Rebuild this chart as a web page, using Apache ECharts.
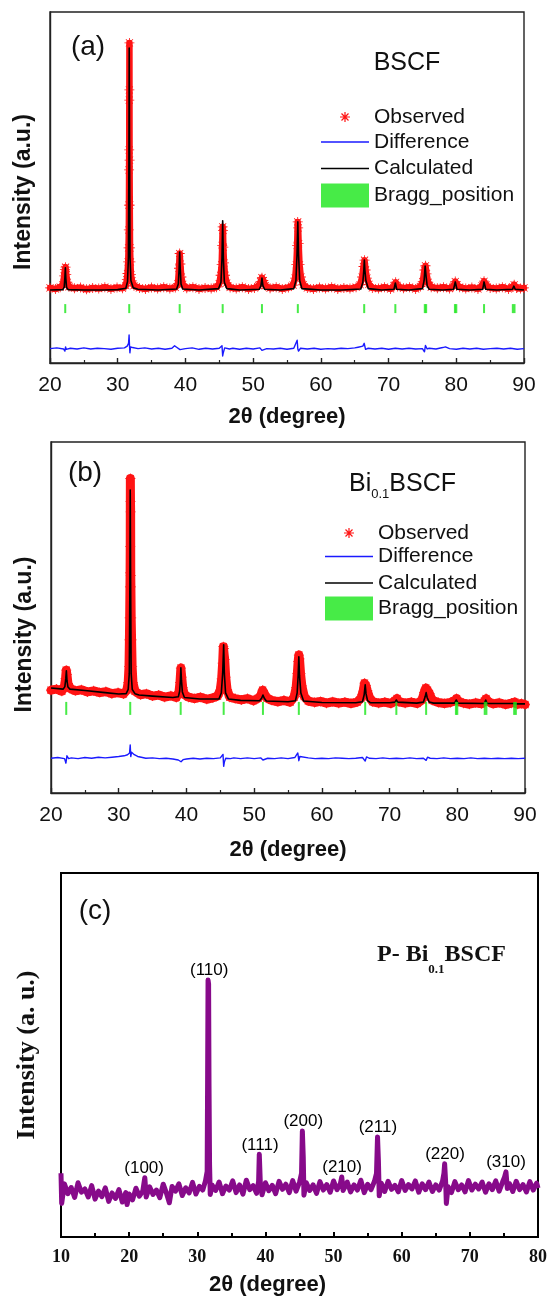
<!DOCTYPE html>
<html>
<head>
<meta charset="utf-8">
<script src="https://cdn.jsdelivr.net/npm/echarts@6.0.0/dist/echarts.min.js"></script>
<style>
html,body{margin:0;padding:0;background:#fff}
#chart{width:550px;height:1297px}
</style>
</head>
<body>
<div id="chart"></div>
<script>
// ---------- (a) BSCF: Rietveld refinement, [2theta, intensity a.u.] ----------
const bscfObserved = [
[20.0,21.4],[20.8,21.1],[21.5,21.6],[21.9,22.3],[22.1,24.8],[22.2,26.6],[22.3,27.3],[22.4,25.2],[22.55,23],[22.8,21.7],
[23.6,21.3],[24.5,21.5],[25.4,21.0],[26.3,21.4],[27.2,21.2],[28.1,21.6],[29.0,21.1],[29.9,21.5],[30.7,21.3],[31.2,22],
[31.35,23.8],[31.45,25.5],[31.55,28.8],[31.6,32.8],[31.64,37.9],[31.66,45],[31.68,55],[31.7,60.7],[31.71,74.9],[31.72,77.8],
[31.73,91.2],[31.75,57.8],[31.78,45],[31.82,32.8],[31.88,28.8],[31.95,25.2],[32.1,23.4],[32.4,22],
[33.2,21.4],[34.1,21.1],[35.0,21.5],[35.9,21.2],[36.8,21.6],[37.7,21.2],[38.5,21.5],[38.9,22.6],[39.05,27],[39.15,31.2],
[39.25,28.2],[39.4,24.5],[39.6,22.4],[40.2,21.3],[41.1,21.6],[42.0,21.1],[42.9,21.4],[43.8,21.2],[44.6,21.6],[45.0,22.6],
[45.2,25],[45.35,28],[45.43,33.5],[45.5,38.8],[45.55,37.8],[45.6,33],[45.7,28.5],[45.85,25],[46.1,22.8],[46.6,21.5],
[47.5,21.2],[48.4,21.6],[49.3,21.1],[50.2,21.4],[50.8,22],[51.1,23.2],[51.3,24.3],[51.5,23.5],[51.8,22],[52.5,21.3],
[53.4,21.6],[54.3,21.1],[55.2,21.5],[55.9,22.2],[56.2,24.2],[56.38,28],[56.5,33.5],[56.58,40.2],[56.65,38.5],[56.72,34],
[56.85,28],[57.05,24.5],[57.4,22.3],[58.0,21.4],[58.9,21.1],[59.8,21.5],[60.7,21.2],[61.6,21.6],[62.5,21.1],[63.4,21.4],
[64.3,21.2],[65.2,21.6],[65.8,22.3],[66.1,24.5],[66.3,27.5],[66.45,29.3],[66.6,26.5],[66.8,24.2],[67.1,22.4],[67.6,21.4],
[68.5,21.2],[69.4,21.6],[70.3,21.1],[70.8,21.9],[71.05,23],[71.3,21.8],[72.2,21.3],[73.1,21.6],[74.0,21.1],[74.7,21.8],
[75.05,23.2],[75.3,26.5],[75.45,27.7],[75.6,25.4],[75.85,23],[76.3,21.6],[77.2,21.3],[78.1,21.6],[79.0,21.2],[79.6,21.9],
[79.85,23.2],[80.1,22.3],[80.5,21.6],[81.4,21.2],[82.3,21.5],[83.2,21.1],[83.8,22],[84.1,23.3],[84.4,22.2],[85.0,21.4],
[85.9,21.2],[86.8,21.6],[87.7,21.1],[88.3,21.7],[88.55,22.3],[88.9,21.4],[89.5,21.2],[90.0,21.4]
];
const bscfCalculated = [
[20,20.8],[21.9,20.9],[22.1,21.6],[22.2,24.5],[22.27,27.1],[22.34,24],[22.45,21.5],[22.7,20.9],
[25,20.8],[28,20.8],[30,20.9],[31.2,21.3],[31.45,23.2],[31.58,30],[31.66,60],[31.7,89.7],[31.75,60],[31.82,30],[31.95,23.5],[32.3,21.4],[33,21],
[36,20.8],[38.7,21.1],[38.95,22.5],[39.07,27],[39.15,31.6],[39.23,27],[39.35,22.5],[39.6,21.1],
[42,20.8],[44.9,21.2],[45.25,23],[45.4,30],[45.5,40.5],[45.6,30],[45.75,23],[46.1,21.2],
[48,20.8],[50.9,21],[51.15,22],[51.3,24.2],[51.45,22],[51.7,21],
[54,20.8],[56,21.2],[56.32,23.5],[56.48,31],[56.6,40.2],[56.7,31],[56.88,23.5],[57.2,21.2],
[60,20.8],[63,20.8],[65.9,21.1],[66.2,23],[66.35,26.5],[66.42,29.3],[66.5,26.5],[66.65,23.5],[67,21.2],
[69,20.8],[70.8,21],[71.0,22.8],[71.2,21],
[73,20.8],[75.0,21.2],[75.25,23.5],[75.4,27.6],[75.55,24.5],[75.7,22],[76.0,21],
[78,20.8],[79.6,21],[79.85,23.1],[80.1,21],
[82,20.8],[83.9,21],[84.1,23.1],[84.35,21],
[86,20.8],[88.3,21],[88.5,21.9],[88.7,21],[90,20.8]
];
const bscfDifference = [
[20,4.1],[21,4.3],[22,4.0],[22.2,3.4],[22.3,4.6],[22.4,3.9],[23,4.2],[24,4.0],[25,4.3],[26,4.0],[27,4.2],[28,4.1],[29,3.9],[30,4.2],
[31,4.3],[31.4,4.8],[31.6,5.6],[31.68,8.0],[31.74,5.0],[31.8,2.9],[31.9,4.6],[32.2,4.4],[33,4.1],[34,4.3],[35,4.0],[36,4.2],[37,3.9],
[38,4.2],[38.4,4.9],[38.7,4.5],[39.2,3.8],[40,4.1],[41,4.3],[42,3.9],[43,4.2],[44,4.0],[45,4.2],[45.4,4.9],[45.5,2.0],[45.6,3.0],
[45.8,4.3],[46.5,4.0],[47,4.2],[48,3.9],[49,4.2],[50,4.0],[51,4.3],[51.3,3.6],[52,4.1],[53,4.0],[54,4.2],[55,3.9],[56,4.2],[56.5,6.5],
[56.6,4.0],[56.7,3.4],[57,4.2],[58,4.0],[59,4.2],[60,3.9],[61,4.1],[62,4.0],[63,4.2],[64,4.1],[65,4.3],[65.5,4.5],[66.2,4.8],[66.4,5.6],
[66.6,3.9],[67,4.2],[68,4.0],[69,4.2],[70,3.9],[71,4.2],[72,4.0],[73,4.2],[74,4.0],[75,4.1],[75.3,3.2],[75.45,5.0],[75.7,4.0],[76,4.2],
[77,4.0],[78,4.4],[78.4,4.6],[79,4.1],[80,3.9],[81,4.2],[82,4.0],[83,4.2],[84,3.9],[85,4.1],[86,4.2],[87,4.0],[88,4.2],[89,3.9],[90,4.1]
];
const bscfBragg = [22.25,31.7,39.15,45.5,51.3,56.6,66.4,71.0,75.35,75.55,79.8,80.0,84.1,88.35,88.6];
const bscfBraggLevel = 15.5;

// ---------- (b) Bi0.1BSCF: Rietveld refinement ----------
const biObserved = [
[20.0,29.3],[20.8,29.6],[21.6,29.0],[22.0,30.6],[22.15,32.6],[22.25,35.0],[22.35,33.8],[22.5,31.2],[22.8,29.8],[23.6,29.1],
[24.5,29.4],[25.4,28.8],[26.3,29.1],[27.2,28.6],[28.1,28.9],[29.0,28.3],[29.9,28.6],[30.7,28.2],[31.2,29.3],[31.4,31.5],
[31.52,36],[31.58,43.6],[31.62,49.9],[31.66,58.7],[31.68,62.7],[31.7,70.2],[31.72,89.6],[31.74,83.0],[31.76,80.1],[31.78,62],
[31.8,58.7],[31.84,49.9],[31.9,43.6],[31.98,36],[32.1,31.5],[32.4,29.0],[33.2,28.0],[34.1,28.3],[35.0,27.6],[35.9,27.9],
[36.8,27.3],[37.7,27.7],[38.5,27.2],[38.9,28.8],[39.05,31.5],[39.18,35.6],[39.3,33],[39.45,30],[39.7,28],[40.3,27.3],
[41.2,26.9],[42.1,27.3],[43.0,26.7],[43.9,27.1],[44.6,27.6],[45.0,29.3],[45.2,32.5],[45.35,37],[45.45,41.7],[45.55,41.2],
[45.65,38],[45.8,33],[46.0,29.5],[46.4,27.3],[47.2,26.9],[48.1,26.5],[49.0,26.9],[49.9,26.3],[50.6,27.0],[51.0,27.8],
[51.25,29.3],[51.5,28.3],[51.9,27],[52.6,26.4],[53.5,26.0],[54.4,26.4],[55.3,25.9],[55.9,27.3],[56.2,30],[56.38,34],
[56.5,37.5],[56.6,39.3],[56.7,38.2],[56.85,34],[57.05,30.5],[57.4,27.5],[58.0,26.2],[58.9,25.8],[59.8,26.1],[60.7,25.6],
[61.6,26.0],[62.5,25.6],[63.4,25.9],[64.3,25.5],[65.2,25.9],[65.8,27.1],[66.1,29],[66.3,31.3],[66.5,30.6],[66.7,29.2],
[67.0,27.3],[67.5,26.0],[68.4,25.6],[69.3,25.9],[70.2,25.5],[70.8,26.3],[71.1,26.9],[71.4,26.0],[72.3,25.6],[73.2,25.9],
[74.1,25.5],[74.8,26.5],[75.1,28.6],[75.35,29.9],[75.6,29.3],[75.9,28.3],[76.3,26.4],[77.2,25.8],[78.1,25.5],[79.0,25.8],
[79.6,26.3],[79.9,26.9],[80.2,26.1],[80.9,25.6],[81.8,25.3],[82.7,25.7],[83.6,25.4],[84.0,26.2],[84.25,26.9],[84.6,26.0],
[85.3,25.4],[86.2,25.7],[87.1,25.2],[88.0,25.6],[88.5,25.9],[88.9,25.3],[89.5,25.5],[90.0,25.2]
];
const biCalculated = [
[20,29.9],[21.8,29.6],[22.05,30.3],[22.18,32.5],[22.27,34.8],[22.36,32],[22.5,30.2],[22.8,29.6],[25,29.2],[28,28.6],[30,28.2],
[31.1,28.3],[31.4,29.5],[31.56,34],[31.65,60],[31.7,86.3],[31.76,60],[31.84,34],[32.0,29.5],[32.4,28.3],[33,27.9],[35,27.6],[38,27.2],
[38.8,27.4],[39.0,29],[39.1,32],[39.18,35.7],[39.27,32],[39.4,28.8],[39.7,27.2],[42,26.8],[44.8,26.8],[45.15,28.5],[45.35,34],
[45.5,42.2],[45.6,34],[45.78,28.5],[46.2,26.8],[48,26.4],[50.8,26.3],[51.1,27],[51.3,27.9],[51.5,27],[51.8,26.2],[55,26.0],
[56.1,26.3],[56.35,28.5],[56.5,33.5],[56.6,38.8],[56.7,33.5],[56.9,28.5],[57.3,26.2],[60,25.8],[65,25.7],[66.0,26],[66.25,28],
[66.4,30.8],[66.52,28.3],[66.75,26.3],[67.2,25.7],[70,25.7],[70.8,25.9],[71.0,26.5],[71.2,25.9],[74,25.6],[75.0,25.9],[75.25,27.4],
[75.4,28.6],[75.55,27.2],[75.85,25.9],[76.5,25.6],[79.6,25.6],[79.85,26.5],[80.1,25.6],[84.0,25.5],[84.2,26.5],[84.4,25.5],
[88.3,25.5],[88.5,25.8],[88.7,25.4],[90,25.4]
];
const biDifference = [
[20,9.9],[21,10.1],[22,9.8],[22.2,8.5],[22.35,10.6],[22.6,9.8],[23,10.0],[24,9.8],[25,10.1],[26,9.9],[27,10.2],[28,10.0],[29,10.2],
[30,10.4],[30.8,10.6],[31.3,10.9],[31.6,11.4],[31.7,13.7],[31.78,10.4],[31.9,11.6],[32.3,10.9],[32.8,10.4],[33.5,10.1],[34,9.9],
[35,10.0],[36,9.8],[37,9.9],[38,9.7],[38.8,9.4],[39.2,8.9],[39.5,9.5],[40,9.7],[41,9.9],[42,9.7],[43,9.9],[44,9.8],[45,10.0],
[45.4,11.0],[45.5,7.6],[45.6,8.8],[45.8,9.9],[46.5,9.8],[47,10.0],[48,9.8],[49,10.0],[50,9.8],[51,10.0],[51.3,9.4],[52,9.9],
[53,9.8],[54,10.0],[55,9.8],[56,10.1],[56.45,11.4],[56.6,9.2],[56.75,10.4],[57,9.9],[58,10.0],[59,9.8],[60,9.9],[61,9.8],[62,10.0],
[63,9.9],[64,9.8],[65,9.9],[66,10.1],[66.4,9.1],[66.6,10.3],[67,9.9],[68,9.8],[69,10.0],[70,9.8],[71,9.9],[72,9.8],[73,10.0],
[74,9.8],[75,9.9],[75.4,9.3],[75.6,10.2],[76,9.9],[77,9.8],[78,10.0],[79,9.8],[80,9.9],[81,9.8],[82,10.0],[83,9.8],[84,9.9],
[85,9.8],[86,9.9],[87,9.8],[88,9.9],[89,9.8],[90,9.9]
];
const biBragg = [22.25,31.7,39.15,45.5,51.3,56.6,66.4,71.0,75.4,79.8,80.0,84.05,84.3,88.4,88.65];
const biBraggLevel = 24.1;

// ---------- (c) P-Bi0.1BSCF: powder pattern ----------
const pbiPattern = [
[10.0,17.5],[10.1,9.2],[10.5,14.6],[11.0,11.9],[11.5,13.6],[12.0,10.9],[12.5,14.9],[13.0,12.3],[13.5,13.2],[14.0,11.0],
[14.5,14.1],[15.0,10.4],[15.5,12.6],[16.0,11.1],[16.5,13.5],[17.0,9.8],[17.5,12.1],[18.0,10.6],[18.5,13.0],[19.0,9.6],
[19.5,12.2],[19.7,8.9],[20.0,11.8],[20.5,10.2],[21.0,13.4],[21.5,11.2],[22.0,12.6],[22.3,16.3],[22.5,11.0],[23.0,13.8],
[23.5,11.7],[24.0,12.9],[24.5,10.8],[25.0,14.5],[25.5,11.9],[25.9,9.4],[26.3,13.9],[26.8,12.6],[27.3,14.6],[27.8,11.4],
[28.3,13.5],[28.8,12.1],[29.3,15.0],[29.8,11.8],[30.3,13.9],[30.8,12.9],[31.2,15.4],[31.45,18],[31.52,45],[31.58,70.6],
[31.66,69.5],[31.72,42],[31.8,20],[31.9,11.7],[32.2,14.2],[32.7,12.8],[33.2,15.1],[33.7,11.9],[34.2,14.0],[34.7,12.9],
[35.2,15.4],[35.7,12.2],[36.2,14.3],[36.7,11.8],[37.2,15.6],[37.7,13.0],[38.2,14.1],[38.7,12.0],[39.0,15.3],[39.1,22.7],
[39.25,14.8],[39.5,11.6],[40.0,14.9],[40.5,12.7],[41.0,14.2],[41.5,11.9],[42.0,15.3],[42.5,13.1],[43.0,14.5],[43.5,12.2],
[44.0,15.5],[44.5,12.6],[45.0,15.0],[45.3,17.5],[45.42,29.1],[45.55,22],[45.65,11.5],[46.0,14.9],[46.5,12.8],[47.0,14.3],
[47.5,12.0],[48.0,15.2],[48.5,12.9],[49.0,14.4],[49.5,12.3],[50.0,15.4],[50.5,13.0],[51.0,14.6],[51.2,16.5],[51.4,12.8],
[52.0,15.1],[52.5,12.4],[53.0,14.3],[53.5,12.9],[54.0,15.6],[54.5,12.2],[55.0,14.5],[55.5,13.0],[56.0,15.3],[56.3,17.5],
[56.45,27.5],[56.58,21],[56.7,11.3],[57.0,14.8],[57.5,12.5],[58.0,15.3],[58.5,13.1],[59.0,14.2],[59.5,12.4],[60.0,15.5],
[60.5,12.8],[61.0,14.4],[61.5,13.2],[62.0,15.4],[62.5,12.3],[63.0,14.6],[63.5,13.0],[64.0,15.1],[64.5,12.5],[65.0,14.3],
[65.5,12.9],[66.0,15.4],[66.2,17.5],[66.3,20.1],[66.45,15],[66.55,9.2],[66.8,13.8],[67.3,12.2],[67.8,15.2],[68.3,13.0],
[68.8,14.3],[69.3,12.4],[69.8,15.5],[70.3,12.9],[70.8,14.5],[71.3,13.2],[71.8,15.1],[72.3,12.3],[72.8,14.6],[73.3,13.0],
[73.8,15.4],[74.3,12.6],[74.8,15.1],[75.1,16.5],[75.3,17.9],[75.5,13.3],[75.8,14.7],[76.3,12.5],[76.8,15.3],[77.3,13.0],
[77.8,14.4],[78.3,12.4],[78.8,15.2],[79.3,12.9],[79.8,14.8],[80.0,13.4]
];
const hklNames = ['(100)','(110)','(111)','(200)','(210)','(211)','(220)','(310)'];
const hklPos = [22.2, 31.75, 39.2, 45.55, 51.25, 56.5, 66.35, 75.3];

const ticksAB = {min: 20, max: 90, interval: 10};
const ticksC = {min: 10, max: 80, interval: 10};

// ---------- styling ----------
const SANS = "'Liberation Sans', Arial, sans-serif";
const SERIF = "'Liberation Serif', 'Times New Roman', serif";
const RED = '#ff1414', BLUE = '#1a1aff', BLACK = '#000', GREEN = '#19e619', PURPLE = '#870a8a';
// asterisk marker for the observed points
const STAR = 'path://M0,9.2H20V10.8H0Z M9.2,0H10.8V20H9.2Z M3.47,2.33L17.67,16.53L16.53,17.67L2.33,3.47Z M17.67,3.47L3.47,17.67L2.33,16.53L16.53,2.33Z';
// the same asterisk centred in a 48x24 legend box
const STAR_KEY = 'path://M0,0Z M48,24Z M19,11.4H29V12.6H19Z M23.4,7H24.6V17H23.4Z M20.92,8.08L27.92,15.08L27.08,15.92L20.08,8.92Z M27.92,8.92L20.92,15.92L20.08,15.08L27.08,8.08Z';
const THIN = 'path://M0,0H48V1.6H0Z';

function rietveld(ix, obs, calc, diff, bragg, level, bandWidth, tickH) {
  const common = {xAxisIndex: ix, yAxisIndex: ix, silent: true, animation: false};
  return [
    Object.assign({name: 'Observed', type: 'line', data: obs, symbol: STAR, symbolSize: 10, symbolKeepAspect: true,
      showSymbol: true, color: RED, lineStyle: {color: RED, width: bandWidth, join: 'round', cap: 'round'},
      itemStyle: {color: RED, borderWidth: 0}, z: 2}, common),
    Object.assign({name: 'Calculated', type: 'line', data: calc, symbol: 'none', color: BLACK,
      lineStyle: {color: BLACK, width: 1.6, join: 'round'}, z: 3}, common),
    Object.assign({name: 'Difference', type: 'line', data: diff, symbol: 'none', color: BLUE,
      lineStyle: {color: BLUE, width: 1.4, join: 'round'}, z: 3}, common),
    Object.assign({name: 'Bragg_position', type: 'scatter', data: bragg.map(x => [x, level]), symbol: 'rect',
      symbolSize: [2, tickH], color: GREEN, itemStyle: {color: GREEN}, z: 4}, common)
  ];
}

function xAxisAB(ix, gap) {
  return Object.assign({type: 'value', gridIndex: ix,
    axisLine: {onZero: false, lineStyle: {color: '#222', width: 1.4}},
    axisTick: {inside: true, length: 5, lineStyle: {color: '#222', width: 1.4}},
    minorTick: {show: true, splitNumber: 2, length: 3, lineStyle: {color: '#222', width: 1.2}},
    axisLabel: {margin: 12, fontSize: 21, fontFamily: SANS, color: '#111'},
    splitLine: {show: false},
    name: '2θ (degree)', nameLocation: 'middle', nameGap: gap,
    nameTextStyle: {fontSize: 22, fontWeight: 'bold', fontFamily: SANS, color: '#111'}}, ticksAB);
}
function yAxisAB(ix, pad) {
  return {type: 'value', gridIndex: ix, min: 0, max: 100,
    axisLine: {show: true, lineStyle: {color: '#222', width: 1.4}},
    axisTick: {show: false}, axisLabel: {show: false}, splitLine: {show: false},
    name: 'Intensity (a.u.)', nameLocation: 'middle', nameGap: 15,
    nameTextStyle: {fontSize: 23, fontWeight: 'bold', fontFamily: SANS, color: '#111', padding: [0, pad, 0, 0]}};
}

// one legend row per entry: [name, icon, row centre y]
function legendRows(left, rows) {
  return rows.map(([name, icon, cy]) => ({
    left: left, top: cy - 12, padding: 0, orient: 'vertical', itemWidth: 48, itemHeight: 24,
    selectedMode: false, itemStyle: {borderWidth: 0},
    textStyle: {fontSize: 21, fontFamily: SANS, color: '#111'},
    data: [{name: name, icon: icon}]
  }));
}

// peak labels of (c) sit on the highest point of the pattern near each reflection
const hklAnchors = hklPos.map((p, i) => {
  let best = null;
  pbiPattern.forEach(pt => {
    if (Math.abs(pt[0] - p) <= 0.4 && (!best || pt[1] > best[1])) best = pt;
  });
  return {name: hklNames[i], value: [p, best[1]]};
});

const chart = echarts.init(document.getElementById('chart'), null, {renderer: 'canvas'});
chart.setOption({
  animation: false,
  backgroundColor: '#fff',
  grid: [
    {left: 50, right: 26, top: 12, height: 351, show: true, borderColor: '#222', borderWidth: 1.4},
    {left: 51, right: 25, top: 442, height: 351, show: true, borderColor: '#222', borderWidth: 1.4},
    {left: 61, right: 12, top: 873, height: 364, show: true, borderColor: '#000', borderWidth: 2}
  ],
  xAxis: [
    xAxisAB(0, 43),
    xAxisAB(1, 46),
    Object.assign({type: 'value', gridIndex: 2,
      axisLine: {onZero: false, lineStyle: {color: '#000', width: 2}},
      axisTick: {inside: true, length: 5, lineStyle: {color: '#000', width: 2}},
      minorTick: {show: true, splitNumber: 2, length: 4, lineStyle: {color: '#000', width: 2}},
      axisLabel: {margin: 11, fontSize: 18, fontWeight: 'bold', fontFamily: SERIF, color: '#111'},
      splitLine: {show: false},
      name: '2θ (degree)', nameLocation: 'middle', nameGap: 37,
      nameTextStyle: {fontSize: 22, fontWeight: 'bold', fontFamily: SANS, color: '#111', padding: [0, 64, 0, 0]}}, ticksC)
  ],
  yAxis: [
    yAxisAB(0, 9),
    yAxisAB(1, 34),
    {type: 'value', gridIndex: 2, min: 0, max: 100,
      axisLine: {show: true, lineStyle: {color: '#000', width: 2}},
      axisTick: {show: false}, axisLabel: {show: false}, splitLine: {show: false},
      name: 'Intensity (a. u.)', nameLocation: 'middle', nameGap: 21,
      nameTextStyle: {fontSize: 26, fontWeight: 'bold', fontFamily: SERIF, color: '#111'}}
  ],
  legend: [].concat(
    legendRows(321, [['Observed', STAR_KEY, 117], ['Difference', THIN, 143.5],
                     ['Calculated', THIN, 170], ['Bragg_position', 'rect', 195.5]]),
    legendRows(325, [['Observed', STAR_KEY, 533], ['Difference', THIN, 558],
                     ['Calculated', THIN, 584.5], ['Bragg_position', 'rect', 608.5]])
  ),
  series: [].concat(
    rietveld(0, bscfObserved, bscfCalculated, bscfDifference, bscfBragg, bscfBraggLevel, 6.5, 9),
    rietveld(1, biObserved, biCalculated, biDifference, biBragg, biBraggLevel, 9, 13),
    [
      {name: 'P- Bi0.1BSCF', type: 'line', xAxisIndex: 2, yAxisIndex: 2, data: pbiPattern, symbol: 'none',
        color: PURPLE, lineStyle: {color: PURPLE, width: 5, join: 'round'}, silent: true, z: 2},
      {name: 'hkl', type: 'scatter', xAxisIndex: 2, yAxisIndex: 2, data: hklAnchors, symbol: 'circle', symbolSize: 0,
        itemStyle: {color: 'rgba(0,0,0,0)'}, silent: true, z: 3,
        label: {show: true, position: 'top', distance: 1, formatter: '{b}', fontSize: 17, fontFamily: SANS,
          color: '#000', opacity: 1}}
    ]
  ),
  graphic: [
    {type: 'text', x: 88, y: 47, style: {text: '(a)', fontSize: 28, fontFamily: SANS, fill: '#111', align: 'center', verticalAlign: 'middle'}},
    {type: 'text', x: 407, y: 63, style: {text: 'BSCF', fontSize: 25, fontFamily: SANS, fill: '#111', align: 'center', verticalAlign: 'middle'}},
    {type: 'text', x: 85, y: 473, style: {text: '(b)', fontSize: 28, fontFamily: SANS, fill: '#111', align: 'center', verticalAlign: 'middle'}},
    {type: 'text', x: 349, y: 484, style: {text: '{m|Bi}{s|0.1}{m|BSCF}', align: 'left', verticalAlign: 'middle',
      rich: {m: {fontSize: 25, fontFamily: SANS, fill: '#111', lineHeight: 34},
             s: {fontSize: 13, fontFamily: SANS, fill: '#111', lineHeight: 13, verticalAlign: 'bottom'}}}},
    {type: 'text', x: 95, y: 911, style: {text: '(c)', fontSize: 28, fontFamily: SANS, fill: '#111', align: 'center', verticalAlign: 'middle'}},
    {type: 'text', x: 377, y: 955, style: {text: '{m|P- Bi}{s|0.1}{m|BSCF}', align: 'left', verticalAlign: 'middle',
      rich: {m: {fontSize: 24, fontWeight: 'bold', fontFamily: SERIF, fill: '#111', lineHeight: 43},
             s: {fontSize: 13, fontWeight: 'bold', fontFamily: SERIF, fill: '#111', lineHeight: 13, verticalAlign: 'bottom'}}}}
  ]
});
</script>
</body>
</html>
